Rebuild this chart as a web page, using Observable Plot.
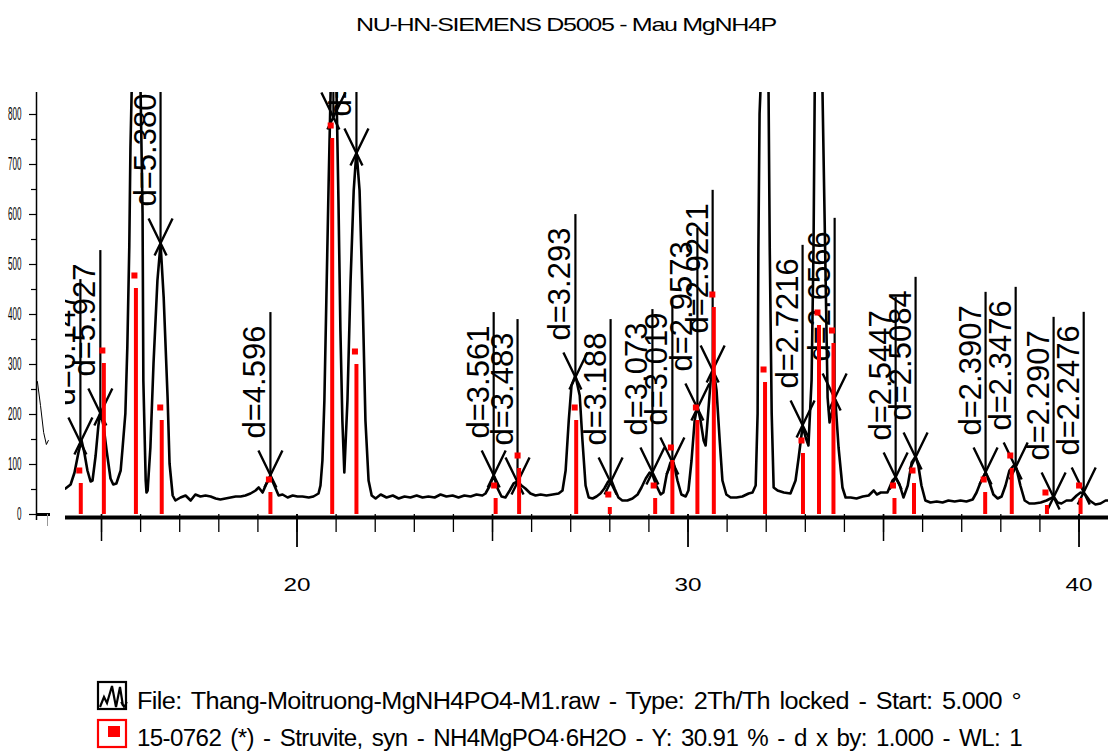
<!DOCTYPE html>
<html>
<head>
<meta charset="utf-8">
<script src="https://cdn.jsdelivr.net/npm/d3@7"></script>
<script src="https://cdn.jsdelivr.net/npm/@observablehq/plot@0.6"></script>
<style>
  html, body { margin: 0; padding: 0; background: #fff; }
  #wrap { position: relative; width: 1108px; height: 751px; overflow: hidden; background: #fff;
          font-family: "Liberation Sans", Arial, sans-serif; color: #000; }
  #title { position: absolute; left: 0; top: 15px; width: 1108px; box-sizing: border-box; padding-left: 24px;
           text-align: center; font-size: 19px; line-height: 19px; white-space: nowrap;
           letter-spacing: -1px; transform-origin: 566px 0; }
  #chart { position: absolute; left: 0; top: 40px; }
  .legText { position: absolute; left: 137px; font-size: 23.5px; line-height: 23.5px; white-space: nowrap;
             word-spacing: 3px; letter-spacing: -0.6px; transform-origin: 0 0; }
  #legIcons { position: absolute; left: 0; top: 0; }
</style>
</head>
<body>
<div id="wrap">
  <div id="title"><span id="titleText">NU-HN-SIEMENS D5005 - Mau MgNH4P</span></div>
  <div id="chart"></div>
  <svg id="legIcons" width="1108" height="751">
    <rect x="98" y="682" width="28" height="27" fill="none" stroke="#000" stroke-width="2.2"/>
    <polyline points="100,707 104,697 107,703 112,686 116,707 120,687 123,706" fill="none" stroke="#000" stroke-width="2.2"/>
    <polyline points="121,702 124,707 127,702" fill="none" stroke="#000" stroke-width="1.8"/>
    <rect x="98" y="720" width="28" height="27" fill="none" stroke="#ff0000" stroke-width="2.2"/>
    <rect x="108" y="726" width="12" height="11" fill="#ff0000"/>
  </svg>
  <div class="legText" id="leg1" style="top:690px">File: Thang-Moitruong-MgNH4PO4-M1.raw - Type: 2Th/Th locked - Start: 5.000 °</div>
  <div class="legText" id="leg2" style="top:727px">15-0762 (*) - Struvite, syn - NH4MgPO4·6H2O - Y: 30.91 % - d x by: 1.000 - WL: 1</div>
</div>
<script>
// ---------- measured pattern (2θ in degrees, intensity in counts) ----------
const curveTheta = [
  14.08,14.21,14.31,14.41,14.49,14.56,14.64,14.72,14.77,14.85,14.92,14.97,15.05,15.13,15.23,15.30,15.38,15.49,15.54,15.61,
  15.66,15.71,15.74,15.77,15.82,15.87,15.95,16.00,16.05,16.07,16.13,16.15,16.18,16.25,16.33,16.43,16.51,16.59,16.69,16.74,
  16.82,16.89,17.02,17.15,17.28,17.40,17.53,17.66,17.79,17.92,18.04,18.17,18.30,18.43,18.56,18.68,18.81,18.94,19.02,19.12,
  19.22,19.32,19.42,19.53,19.63,19.76,19.89,20.01,20.14,20.30,20.42,20.55,20.60,20.65,20.70,20.75,20.81,20.86,20.93,21.01,
  21.06,21.11,21.16,21.21,21.29,21.37,21.45,21.52,21.60,21.68,21.75,21.83,21.91,22.01,22.14,22.29,22.45,22.60,22.75,22.90,
  23.06,23.21,23.36,23.52,23.67,23.82,23.98,24.13,24.28,24.44,24.59,24.74,24.82,24.92,25.03,25.13,25.23,25.33,25.44,25.54,
  25.64,25.74,25.84,25.97,26.10,26.23,26.38,26.54,26.69,26.79,26.87,26.95,27.02,27.12,27.23,27.30,27.38,27.46,27.56,27.66,
  27.76,27.86,27.96,28.04,28.12,28.22,28.32,28.45,28.58,28.71,28.81,28.92,29.02,29.09,29.19,29.30,29.37,29.45,29.55,29.63,
  29.73,29.83,29.94,30.01,30.09,30.17,30.24,30.32,30.40,30.45,30.50,30.58,30.65,30.73,30.81,30.88,30.98,31.09,31.24,31.39,
  31.55,31.65,31.73,31.78,31.80,31.83,31.85,31.93,32.01,32.06,32.09,32.14,32.19,32.29,32.45,32.62,32.75,32.83,32.93,33.01,
  33.08,33.16,33.21,33.24,33.29,33.39,33.44,33.52,33.57,33.62,33.70,33.77,33.85,33.95,34.03,34.16,34.31,34.47,34.62,34.75,
  34.83,34.93,35.10,35.23,35.31,35.41,35.51,35.62,35.72,35.82,35.89,35.97,36.07,36.20,36.36,36.51,36.66,36.82,36.97,37.12,
  37.28,37.38,37.48,37.61,37.71,37.81,37.92,38.02,38.12,38.22,38.33,38.40,38.50,38.61,38.73,38.86,39.02,39.17,39.27,39.35,
  39.45,39.55,39.68,39.81,39.94,40.04,40.14,40.27,40.42,40.55,40.68,40.75
];
const curveCounts = [
  52,60,84,124,148,124,88,66,68,118,178,204,178,128,72,60,62,88,134,202,
  334,534,734,842,960,1000,960,842,602,268,68,44,48,134,302,468,542,434,234,102,
  38,28,34,38,28,40,36,38,36,32,30,32,34,36,36,38,42,48,54,44,
  62,76,58,38,40,34,38,36,36,34,36,42,58,108,228,428,668,848,1000,848,
  628,368,188,84,228,468,648,728,648,428,188,68,38,32,40,34,38,32,36,34,
  38,34,36,34,40,36,38,34,38,36,40,38,42,56,78,52,36,34,48,62,
  66,58,52,42,38,40,38,40,42,48,88,188,258,278,238,148,58,34,32,36,
  42,52,66,68,52,34,28,28,32,40,54,72,84,80,58,40,44,78,104,104,
  68,40,36,48,108,188,218,188,148,138,188,268,292,248,148,68,40,34,34,36,
  42,44,58,202,534,802,842,1000,1000,842,534,202,54,48,44,42,68,114,176,154,
  138,268,534,842,1000,1000,842,468,234,184,212,228,134,54,34,34,32,36,38,48,
  40,44,44,68,74,60,34,58,104,116,98,58,28,24,26,24,28,26,28,26,
  30,44,64,84,64,40,32,36,58,88,98,92,58,28,22,22,24,28,32,36,
  24,22,28,28,38,44,42,28,20,22,28,28
];
// short trace segment drawn left of the axis origin
const tailTheta = [13.36, 13.44, 13.52, 13.59, 13.64];
const tailCounts = [266, 218, 164, 140, 148];

// ---------- peak labels ----------
const labelText = ["d=6.147","d=5.927","d=5.380","d=4.596","d=4.241","d=4.126","d=3.561","d=3.483","d=3.293","d=3.188",
  "d=3.073","d=3.019","d=2.9573","d=2.9221","d=2.7216","d=2.6566","d=2.5447","d=2.5084","d=2.3907","d=2.3476","d=2.2907","d=2.2476"];
const labelTheta = [14.46,14.97,16.51,19.32,20.93,21.52,25.03,25.64,27.12,28.02,
  29.09,29.60,30.24,30.63,32.93,33.75,35.31,35.82,37.61,38.38,39.35,40.12];
const labelCounts = [144,202,542,78,794,722,78,64,274,64,
  84,104,212,288,178,232,74,114,84,94,34,44];

// ---------- reference pattern 15-0762 (Struvite) ----------
const barTheta = [14.47,15.06,15.88,16.54,19.32,20.90,21.52,25.08,25.68,27.14,28.00,29.16,29.60,30.24,30.66,
  31.97,32.94,33.35,33.72,35.28,35.78,37.60,38.28,39.18,40.04];
const barCounts = [62,302,452,188,44,752,300,32,92,188,14,32,108,188,414,
  264,122,378,342,32,62,44,92,18,32];

// ---------- axes ----------
const xMajorTicks = [20, 30, 40];
const xMediumTicks = [15, 25, 35];
const xMinorTicks = [15,16,17,18,19,20,21,22,23,24,25,26,27,28,29,30,31,32,33,34,35,36,37,38,39,40];
const yMajorTicks = [0, 100, 200, 300, 400, 500, 600, 700, 800];
const yMinorTicks = [50, 150, 250, 350, 450, 550, 650, 750];
const xDomain = [14.079, 40.754];
const yDomain = [0, 844];

// ---------- build ----------
const W = 1108, H = 600, mT = 52, mB = 126, mL = 65, mR = 0;
const pxPerCount = (H - mT - mB) / (yDomain[1] - yDomain[0]);
const pxPerDeg = (W - mL - mR) / (xDomain[1] - xDomain[0]);
const labelFont = 31, labelGap = 37;
const ctx = document.createElement("canvas").getContext("2d");
ctx.font = `${labelFont}px "Liberation Sans"`;

const curve = curveTheta.map((t, i) => ({theta: t, counts: curveCounts[i]}));
const tail = tailTheta.map((t, i) => ({theta: t, counts: tailCounts[i]}));
const labels = labelText.map((s, i) => ({
  text: s, theta: labelTheta[i], counts: labelCounts[i],
  top: labelCounts[i] + (labelGap + 13 + ctx.measureText(s).width) / pxPerCount
}));
// a label whose text would start above the frame is hidden by the frame clip in the reference
const visibleLabels = labels.filter(d => d.counts + labelGap / pxPerCount < yDomain[1]);
const bars = barTheta.map((t, i) => ({theta: t, counts: barCounts[i]}));

const crossSymbol = {
  draw(c) {
    c.moveTo(-12, -25); c.lineTo(6, 12);
    c.moveTo(12, -25); c.lineTo(-6, 12);
  }
};
const axisShift = -29; // y axis drawn left of the frame
const noText = () => "";

const chart = Plot.plot({
  width: W, height: H,
  marginTop: mT, marginBottom: mB, marginLeft: mL, marginRight: mR,
  x: {domain: xDomain, label: null, axis: null},
  y: {domain: yDomain, label: null, axis: null},
  style: {fontFamily: '"Liberation Sans", Arial, sans-serif', background: "white", color: "black", overflow: "visible"},
  marks: [
    Plot.line(curve, {x: "theta", y: "counts", stroke: "black", strokeWidth: 2.6, strokeLinejoin: "round", clip: true}),
    Plot.line(tail, {x: "theta", y: "counts", stroke: "black", strokeWidth: 1}),
    Plot.ruleX(labels, {x: "theta", y1: "counts", y2: "top", stroke: "black", strokeWidth: 2.2, clip: true}),
    Plot.dot(labels, {x: "theta", y: "counts", symbol: crossSymbol, fill: "none", stroke: "black", strokeWidth: 2.4, clip: true}),
    Plot.text(visibleLabels, {x: "theta", y: "counts", text: "text", rotate: -90, textAnchor: "start", lineAnchor: "bottom",
      dx: -5, dy: -labelGap, fontSize: labelFont, fill: "black", clip: true}),
    Plot.ruleX(bars, {x: "theta", y1: 0, y2: "counts", stroke: "#ff0000", strokeWidth: 4}),
    Plot.dot(bars, {x: "theta", y: "counts", symbol: "square", r: 3.4, fill: "#ff0000", stroke: "none", dx: -1.5, dy: -13}),
    Plot.ruleY([0], {stroke: "black", strokeWidth: 4, dy: 3}),
    Plot.axisX({ticks: xMinorTicks, tickSize: 18, tickFormat: noText, strokeWidth: 1.3, label: null}),
    Plot.axisX({ticks: xMediumTicks, tickSize: 27, tickFormat: noText, strokeWidth: 1.5, label: null}),
    Plot.axisX({ticks: xMajorTicks, tickSize: 33, tickFormat: noText, strokeWidth: 1.8, label: null}),
    Plot.axisX({ticks: xMajorTicks, tickSize: 0, tickPadding: 64, fontSize: 18, label: null}),
    Plot.axisY({ticks: yMajorTicks, tickSize: 7, tickPadding: 8, dx: axisShift, fontSize: 18, strokeWidth: 1.2, label: null}),
    Plot.axisY({ticks: yMinorTicks, tickSize: 5, tickFormat: noText, dx: axisShift, strokeWidth: 1.2, label: null}),
    Plot.ruleX([xDomain[0]], {y1: -12, y2: yDomain[1], dx: axisShift, stroke: "black", strokeWidth: 1.5}),
    Plot.ruleY([0], {x1: xDomain[0] + axisShift / pxPerDeg, x2: xDomain[0] - 15 / pxPerDeg, stroke: "black", strokeWidth: 3}),
    Plot.ruleX([xDomain[0] - 18 / pxPerDeg], {y1: 0, y2: -24, stroke: "#999", strokeWidth: 1})
  ]
});
document.getElementById("chart").appendChild(chart);

// horizontal stretch of tick labels to match the reference glyph proportions
function stretch(selector, sx) {
  chart.querySelectorAll(selector).forEach(t => {
    const x = +t.getAttribute("x") || 0, y = +t.getAttribute("y") || 0;
    const tr = t.getAttribute("transform") || "";
    t.setAttribute("transform", `${tr} translate(${x},${y}) scale(${sx},1) translate(${-x},${-y})`);
  });
}
stretch('g[aria-label="x-axis tick label"] text', 1.35);
stretch('g[aria-label="y-axis tick label"] text', 0.45);

// fit title and legend lines to their measured extents
const tw = document.getElementById("titleText").getBoundingClientRect().width;
document.getElementById("title").style.transform = `scaleX(${420 / tw})`;
function fit(id, target) {
  const el = document.getElementById(id);
  const w = el.getBoundingClientRect().width;
  el.style.transform = `scaleX(${target / w})`;
}
fit("leg1", 884);
fit("leg2", 885);
</script>
</body>
</html>
